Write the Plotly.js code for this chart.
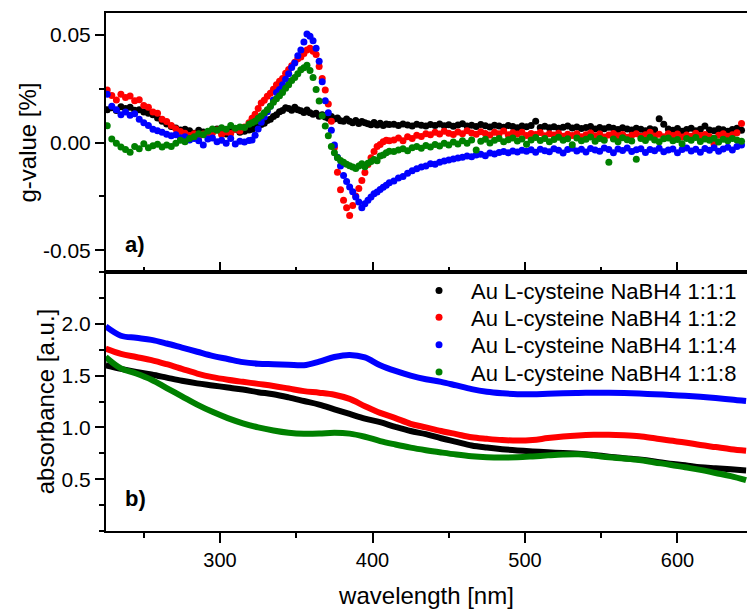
<!DOCTYPE html>
<html>
<head>
<meta charset="utf-8">
<script src="https://cdn.plot.ly/plotly-3.0.1.min.js"></script>
<style>html,body{margin:0;padding:0;background:#fff;}#chart{width:747px;height:609px;}</style>
</head>
<body>
<div id="chart"></div>
<script>
// ---- CD spectra (g-value, %) ----
const cdWavelength = [
226,229,232,235,238,241,244,247,250,253,256,259,262,265,268,271,274,277,280,283,286,289,292,295,298,301,304,307,310,313,316,319,
321,323,325,327,329,331,333,335,337,339,341,343,345,347,349,351,353,355,357,359,361,363,365,367,369,371,373,375,377,379,381,383,385,387,389,391,393,395,397,399,401,403,405,407,409,411,
414,417,420,423,426,429,432,435,438,441,444,447,450,453,456,459,462,465,468,471,474,477,480,483,486,489,492,495,498,501,
504,507,510,513,516,519,522,525,528,531,534,537,540,543,546,549,552,555,558,561,564,567,570,573,576,579,582,585,588,591,
594,597,600,603,606,609,612,615,618,621,624,627,630,633,636,639,642
];
const cdBlack = [
0.0152,0.0161,0.0148,0.0166,0.0157,0.0163,0.0149,0.0152,0.0141,0.0136,0.0128,0.0113,0.0098,0.0086,0.0074,0.0067,0.0058,0.0061,0.0054,0.0043,0.0057,0.0049,0.0041,0.0055,0.0062,0.0048,0.0039,0.0053,0.0061,0.0047,0.0052,0.0058,
0.0061,0.0068,0.0074,0.0083,0.0089,0.0102,0.0108,0.0121,0.0129,0.0142,0.0148,0.0161,0.0157,0.0149,0.0163,0.0152,0.0147,0.0139,0.0151,0.0138,0.0131,0.0136,0.0122,0.0129,0.0118,0.0112,0.0121,0.0109,0.0114,0.0101,0.0098,0.0109,0.0099,0.0091,0.0102,0.0088,0.0097,0.0091,0.0087,0.0082,0.0093,0.0081,0.0089,0.0079,0.0086,0.0083,
0.0084,0.0079,0.0086,0.0081,0.0077,0.0085,0.0080,0.0076,0.0083,0.0079,0.0086,0.0078,0.0082,0.0075,0.0081,0.0087,0.0077,0.0080,0.0074,0.0083,
0.0078,0.0072,0.0080,0.0076,0.0071,0.0079,0.0074,0.0068,0.0077,0.0073,0.0079,0.0098,0.0070,0.0075,0.0068,0.0073,0.0066,0.0071,0.0076,0.0067,
0.0072,0.0065,0.0070,0.0074,0.0063,0.0069,0.0064,0.0071,0.0066,0.0060,0.0068,0.0063,0.0058,0.0066,0.0061,0.0055,0.0064,0.0059,0.0110,0.0084,
0.0062,0.0057,0.0065,0.0052,0.0060,0.0066,0.0055,0.0061,0.0076,0.0058,0.0054,0.0063,0.0059,0.0052,0.0060,0.0066,0.0057
];
const cdRed = [
0.0243,0.0218,0.0197,0.0224,0.0209,0.0216,0.0193,0.0198,0.0172,0.0163,0.0141,0.0136,0.0108,0.0097,0.0079,0.0064,0.0051,0.0043,0.0032,0.0041,0.0028,0.0039,0.0033,0.0044,0.0058,0.0037,0.0049,0.0042,0.0061,0.0053,0.0072,0.0091,
0.0112,0.0131,0.0158,0.0183,0.0196,0.0214,0.0228,0.0247,0.0268,0.0284,0.0297,0.0321,0.0338,0.0356,0.0372,0.0388,0.0396,0.0412,0.0428,0.0437,0.0423,0.0408,0.0352,0.0297,0.0243,0.0178,0.0098,-0.0023,-0.0138,-0.0219,-0.0268,-0.0302,-0.0338,-0.0292,-0.0248,-0.0213,-0.0176,-0.0139,-0.0102,-0.0071,-0.0042,-0.0018,-0.0009,0.0003,0.0011,0.0008,
0.0012,0.0021,0.0008,0.0027,0.0019,0.0034,0.0028,0.0041,0.0036,0.0047,0.0039,0.0052,0.0043,0.0037,0.0049,0.0041,0.0055,0.0044,0.0038,0.0050,
0.0042,0.0035,0.0048,0.0040,0.0053,0.0036,0.0045,0.0039,0.0047,0.0033,0.0042,0.0037,0.0046,0.0031,0.0040,0.0035,0.0043,0.0029,0.0038,0.0032,
0.0041,0.0027,0.0036,0.0044,0.0030,0.0039,0.0026,0.0035,0.0042,0.0031,0.0037,0.0024,0.0034,0.0040,0.0029,0.0036,0.0048,0.0030,0.0038,0.0027,
0.0041,0.0033,0.0039,0.0026,0.0035,0.0029,0.0043,0.0032,0.0037,0.0028,-0.0008,0.0034,0.0040,0.0029,0.0036,0.0045,0.0088
];
const cdBlue = [
0.0224,0.0168,0.0152,0.0129,0.0141,0.0126,0.0133,0.0108,0.0092,0.0079,0.0061,0.0054,0.0047,0.0038,0.0031,0.0036,0.0022,0.0027,0.0012,0.0019,0.0008,-0.0012,0.0016,0.0021,0.0003,0.0011,-0.0004,0.0018,-0.0007,0.0006,0.0002,0.0009,
0.0012,0.0034,0.0062,0.0094,0.0118,0.0143,0.0168,0.0197,0.0232,0.0246,0.0268,0.0293,0.0318,0.0347,0.0368,0.0402,0.0428,0.0466,0.0503,0.0492,0.0471,0.0437,0.0376,0.0281,0.0193,0.0138,0.0057,-0.0012,-0.0068,-0.0109,-0.0153,-0.0181,-0.0206,-0.0228,-0.0252,-0.0276,-0.0302,-0.0284,-0.0268,-0.0252,-0.0238,-0.0229,-0.0218,-0.0207,-0.0198,-0.0186,
-0.0178,-0.0165,-0.0158,-0.0142,-0.0131,-0.0122,-0.0114,-0.0109,-0.0098,-0.0101,-0.0092,-0.0086,-0.0081,-0.0077,-0.0072,-0.0068,-0.0063,-0.0066,-0.0058,-0.0055,
-0.0061,-0.0049,-0.0053,-0.0046,-0.0042,-0.0048,-0.0039,-0.0044,-0.0036,-0.0041,-0.0034,-0.0045,-0.0031,-0.0038,-0.0043,-0.0029,-0.0036,-0.0049,-0.0033,-0.0027,
-0.0039,-0.0031,-0.0044,-0.0028,-0.0035,-0.0041,-0.0026,-0.0033,-0.0047,-0.0030,-0.0037,-0.0025,-0.0042,-0.0034,-0.0029,-0.0046,-0.0032,-0.0038,-0.0027,-0.0043,
-0.0035,-0.0030,-0.0048,-0.0033,-0.0026,-0.0039,-0.0031,-0.0045,-0.0028,-0.0036,-0.0024,-0.0041,-0.0030,-0.0022,-0.0035,-0.0018,-0.0012
];
const cdGreen = [
0.0078,0.0016,-0.0004,-0.0021,-0.0032,-0.0045,-0.0018,-0.0029,-0.0006,-0.0024,-0.0015,-0.0008,-0.0021,-0.0012,-0.0019,-0.0003,0.0011,0.0004,0.0019,0.0027,0.0041,0.0036,0.0052,0.0063,0.0057,0.0068,0.0061,0.0079,0.0066,0.0072,0.0069,0.0084,
0.0091,0.0098,0.0112,0.0124,0.0138,0.0152,0.0168,0.0186,0.0203,0.0217,0.0232,0.0251,0.0268,0.0287,0.0301,0.0318,0.0337,0.0346,0.0358,0.0334,0.0301,0.0246,0.0192,0.0124,0.0076,0.0031,-0.0019,-0.0048,-0.0071,-0.0083,-0.0092,-0.0101,-0.0108,-0.0114,-0.0121,-0.0109,-0.0098,-0.0112,-0.0096,-0.0088,-0.0079,-0.0084,-0.0062,-0.0058,-0.0047,-0.0041,
-0.0042,-0.0035,-0.0029,-0.0038,-0.0024,-0.0019,-0.0027,-0.0014,-0.0021,-0.0009,-0.0016,-0.0004,-0.0012,0.0002,-0.0007,0.0008,-0.0003,0.0012,-0.0035,0.0006,
0.0015,-0.0002,0.0011,0.0019,0.0004,0.0013,0.0021,0.0007,0.0016,-0.0008,0.0012,0.0023,0.0009,0.0018,0.0003,0.0014,0.0024,0.0010,0.0017,-0.0011,
0.0021,0.0008,0.0015,0.0026,0.0006,0.0019,0.0011,-0.0092,0.0016,0.0004,0.0022,0.0013,0.0007,-0.0078,0.0018,0.0009,0.0024,0.0012,0.0003,0.0017,
0.0021,0.0008,0.0014,-0.0006,0.0019,0.0010,0.0023,0.0005,0.0016,0.0011,0.0020,0.0002,0.0015,0.0008,0.0018,0.0012,0.0006
];

// ---- Absorbance spectra (a.u.) ----
const absWavelength = [225,235,245,255,265,275,285,295,305,315,325,335,345,355,365,375,385,395,405,415,425,435,445,455,465,475,485,495,505,515,525,535,545,555,565,575,585,595,605,615,625,635,645];
const absBlack = [1.60,1.565,1.535,1.51,1.48,1.45,1.425,1.405,1.385,1.365,1.34,1.32,1.29,1.255,1.22,1.175,1.13,1.085,1.05,1.005,0.965,0.935,0.895,0.86,0.825,0.805,0.79,0.778,0.768,0.76,0.752,0.745,0.733,0.718,0.702,0.69,0.672,0.65,0.635,0.615,0.605,0.595,0.585];
const absRed = [1.76,1.71,1.68,1.65,1.61,1.565,1.52,1.485,1.46,1.44,1.42,1.40,1.375,1.35,1.335,1.315,1.275,1.205,1.14,1.09,1.035,1.00,0.965,0.935,0.905,0.89,0.878,0.873,0.878,0.897,0.912,0.922,0.928,0.93,0.925,0.915,0.895,0.873,0.855,0.83,0.81,0.79,0.775];
const absBlue = [1.975,1.885,1.865,1.845,1.81,1.77,1.73,1.69,1.66,1.63,1.615,1.61,1.605,1.60,1.635,1.68,1.70,1.675,1.60,1.545,1.50,1.465,1.44,1.405,1.37,1.345,1.33,1.32,1.32,1.325,1.33,1.333,1.335,1.335,1.332,1.327,1.32,1.313,1.305,1.295,1.283,1.27,1.255];
const absGreen = [1.68,1.57,1.52,1.46,1.38,1.30,1.22,1.15,1.09,1.04,1.00,0.97,0.948,0.938,0.94,0.948,0.94,0.91,0.868,0.835,0.805,0.78,0.758,0.738,0.722,0.713,0.71,0.712,0.72,0.73,0.738,0.74,0.728,0.712,0.70,0.685,0.662,0.64,0.615,0.59,0.56,0.53,0.49];

const seriesNames = ['Au L-cysteine NaBH4 1:1:1','Au L-cysteine NaBH4 1:1:2','Au L-cysteine NaBH4 1:1:4','Au L-cysteine NaBH4 1:1:8'];
const seriesColors = ['#000000','#ff0000','#0000ff','#008000'];
const cdSeries = [cdBlack, cdRed, cdBlue, cdGreen];
const absSeries = [absBlack, absRed, absBlue, absGreen];
const yTickValsCD = [-0.05, 0, 0.05];
const yTickTextCD = ['-0.05', '0.00', '0.05'];
const yTickValsA = [0.5, 1.0, 1.5, 2.0];
const yTickTextA = ['0.5', '1.0', '1.5', '2.0'];

const FONT = 'Liberation Sans, Arial, Helvetica, sans-serif';
const legendIds = ['legend', 'legend2', 'legend3', 'legend4'];
const traces = [];
absSeries.forEach((ys, i) => {
  traces.push({
    x: absWavelength, y: ys, xaxis: 'x2', yaxis: 'y2', type: 'scatter', mode: 'lines',
    line: {color: seriesColors[i], width: 6, shape: 'spline', smoothing: 1},
    showlegend: false, hoverinfo: 'skip'
  });
});
cdSeries.forEach((ys, i) => {
  traces.push({
    x: cdWavelength, y: ys, xaxis: 'x', yaxis: 'y', type: 'scatter', mode: 'markers',
    name: seriesNames[i], legend: legendIds[i],
    marker: {color: seriesColors[i], size: 7, line: {width: 0}},
    showlegend: true
  });
});

const axisLine = {showline: true, linewidth: 2, linecolor: '#000', showgrid: false, zeroline: false,
  tickcolor: '#000', tickwidth: 2};
const xr = [225.2, 645.6];
const legendRowsY = [0.5044, 0.4529, 0.3996, 0.3469];

const layout = {
  width: 747, height: 609,
  margin: {l: 106, r: 0, t: 13, b: 78},
  paper_bgcolor: '#fff', plot_bgcolor: 'rgba(0,0,0,0)',
  font: {family: FONT, color: '#000'},
  xaxis: Object.assign({}, axisLine, {domain: [0, 1], anchor: 'y', range: xr, mirror: true,
    showticklabels: false, ticks: 'inside', ticklen: 10, tick0: 0, dtick: 100,
    minor: {tick0: 0, dtick: 50, ticks: 'inside', ticklen: 5, tickwidth: 2, tickcolor: '#000'}}),
  yaxis: Object.assign({}, axisLine, {domain: [0.5, 1], anchor: 'x', range: [-0.06, 0.06],
    tickmode: 'array', tickvals: yTickValsCD, ticktext: yTickTextCD, ticks: 'outside', ticklen: 9,
    tickfont: {family: FONT, size: 21, color: '#000'},
    minor: {tickmode: 'linear', tick0: 0, dtick: 0.025, ticks: 'outside', ticklen: 5, tickwidth: 2, tickcolor: '#000'},
    title: {text: 'g-value [%]', font: {family: FONT, size: 24}, standoff: 0}}),
  xaxis2: Object.assign({}, axisLine, {domain: [0, 1], anchor: 'y2', range: xr, mirror: true,
    ticks: 'outside', ticklen: 10, tick0: 0, dtick: 100,
    tickfont: {family: FONT, size: 20, color: '#000'},
    minor: {tick0: 0, dtick: 50, ticks: 'outside', ticklen: 5, tickwidth: 2, tickcolor: '#000'},
    title: {text: 'wavelength [nm]', font: {family: FONT, size: 24}, standoff: 18}}),
  yaxis2: Object.assign({}, axisLine, {domain: [0, 0.5], anchor: 'x2', range: [0, 2.5],
    tickmode: 'array', tickvals: yTickValsA, ticktext: yTickTextA, ticks: 'outside', ticklen: 9,
    tickfont: {family: FONT, size: 21, color: '#000'},
    minor: {tickmode: 'linear', tick0: 0, dtick: 0.25, ticks: 'outside', ticklen: 5, tickwidth: 2, tickcolor: '#000'},
    title: {text: 'absorbance [a.u.]', font: {family: FONT, size: 24}, standoff: 0}}),
  annotations: [
    {xref: 'paper', yref: 'paper', x: 0.026, y: 0.553, xanchor: 'left', yanchor: 'middle', showarrow: false,
     text: '<b>a)</b>', font: {family: FONT, size: 22, color: '#000'}},
    {xref: 'paper', yref: 'paper', x: 0.026, y: 0.062, xanchor: 'left', yanchor: 'middle', showarrow: false,
     text: '<b>b)</b>', font: {family: FONT, size: 22, color: '#000'}}
  ]
};
legendIds.forEach((id, i) => {
  layout[id] = {x: 0.4696, y: legendRowsY[i], xanchor: 'left', yanchor: 'top', bgcolor: 'rgba(0,0,0,0)',
    font: {family: FONT, size: 22, color: '#000'}, itemwidth: 54};
});

Plotly.newPlot('chart', traces, layout, {staticPlot: true, displayModeBar: false});
</script>
</body>
</html>
